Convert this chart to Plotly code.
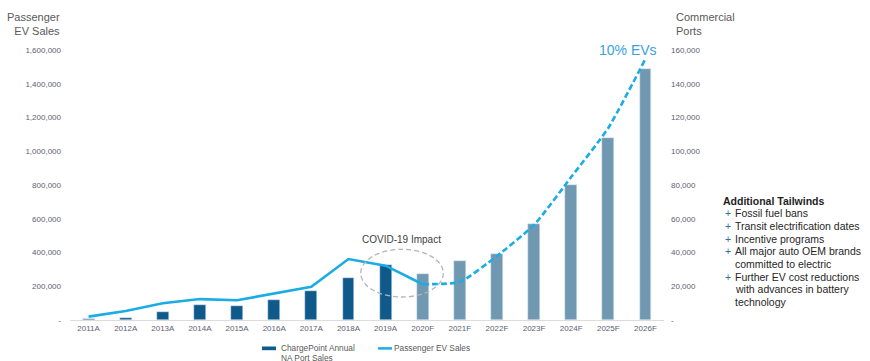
import plotly.graph_objects as go

# ---------------- data ----------------
years = ["2011A", "2012A", "2013A", "2014A", "2015A", "2016A", "2017A", "2018A",
         "2019A", "2020F", "2021F", "2022F", "2023F", "2024F", "2025F", "2026F"]
port_sales = [400, 1400, 4600, 8900, 8300, 11700, 17400, 24900,
              32600, 27300, 34800, 39000, 57100, 80200, 108000, 148800]
ev_sales = [20000, 53000, 99000, 124000, 117000, 158000, 197000, 361000,
            322000, 212000, 225000, 379000, 563000, 847000, 1138000, 1547000]
n_actual = 9  # 2011A-2019A are actuals

left_ticks = [0, 200000, 400000, 600000, 800000, 1000000, 1200000, 1400000, 1600000]
right_ticks = [0, 20000, 40000, 60000, 80000, 100000, 120000, 140000, 160000]
tailwinds = [
    ("Fossil fuel bans", True),
    ("Transit electrification dates", True),
    ("Incentive programs", True),
    ("All major auto OEM brands", True),
    ("committed to electric", False),
    ("Further EV cost reductions", True),
    ("with advances in battery", False),
    ("technology", False),
]

# ---------------- style ----------------
FONT = "Liberation Sans, Arial, sans-serif"
DARK = "#0f5a8b"
LIGHT = "#7099b1"
LINE = "#1aace4"
TICK = "#5d6170"
W, H = 870, 361
PL, PR, PT, PB = 70, 664, 50, 320  # plot area in px


def px(x):
    return (x - PL) / (PR - PL)


def py(y):
    return (PB - y) / (PB - PT)


def fmt(v):
    return "-" if v == 0 else f"{v:,}"


bar_colors = [DARK if i < n_actual else LIGHT for i in range(len(years))]

fig = go.Figure()
fig.add_trace(go.Bar(x=years, y=port_sales, marker_color=bar_colors, width=0.32,
                     yaxis="y", showlegend=False))
fig.add_trace(go.Scatter(x=years[:n_actual + 1], y=ev_sales[:n_actual + 1], mode="lines",
                         line=dict(color=LINE, width=2.6), yaxis="y2", showlegend=False))
fig.add_trace(go.Scatter(x=years[n_actual:], y=ev_sales[n_actual:], mode="lines",
                         line=dict(color=LINE, width=2.6, dash="6px,3px", shape="spline",
                                   smoothing=0.5),
                         yaxis="y2", showlegend=False))

fig.update_layout(
    width=W, height=H,
    margin=dict(l=PL, r=W - PR, t=PT, b=H - PB),
    paper_bgcolor="white", plot_bgcolor="white",
    font=dict(family=FONT, color=TICK, size=8),
    bargap=0,
    xaxis=dict(showgrid=False, showline=True, linecolor="#dcdcdc", linewidth=1,
               ticks="", tickfont=dict(size=8, color=TICK), zeroline=False,
               range=[-0.5, len(years) - 0.5]),
    yaxis=dict(side="right", range=[0, 160000], showgrid=False, zeroline=False,
               tickvals=right_ticks, ticktext=[fmt(v) for v in right_ticks],
               tickfont=dict(size=8, color=TICK), ticks="", ticklabelstandoff=6),
    yaxis2=dict(side="left", overlaying="y", range=[0, 1600000], showgrid=False,
                zeroline=False, tickvals=left_ticks, ticktext=[fmt(v) for v in left_ticks],
                tickfont=dict(size=8, color=TICK), ticks="", ticklabelstandoff=8),
)

ann = []
# axis titles
ann.append(dict(text="Passenger<br>EV Sales", x=px(62), y=py(23.5), xref="paper", yref="paper",
                xanchor="right", yanchor="middle", align="right", showarrow=False,
                font=dict(size=11, color="#595959")))
ann.append(dict(text="Commercial<br>Ports", x=px(674), y=py(23.5), xref="paper", yref="paper",
                xanchor="left", yanchor="middle", align="left", showarrow=False,
                font=dict(size=11, color="#595959")))
# callouts
ann.append(dict(text="10% EVs", x=px(627.5), y=py(50), xref="paper", yref="paper",
                xanchor="center", yanchor="middle", showarrow=False,
                font=dict(size=14, color="#3aa3dc")))
ann.append(dict(text="COVID-19 Impact", x=px(401), y=py(239), xref="paper", yref="paper",
                xanchor="center", yanchor="middle", showarrow=False,
                font=dict(size=10, color="#404040")))
# tailwinds block
ann.append(dict(text="<b>Additional Tailwinds</b>", x=px(721), y=py(200.7), xref="paper",
                yref="paper", xanchor="left", yanchor="middle", showarrow=False,
                font=dict(size=10.5, color="#1e1e1e")))
for i, (txt, plus) in enumerate(tailwinds):
    yy = 213.3 + i * 12.67
    if plus:
        ann.append(dict(text="+", x=px(722.5), y=py(yy), xref="paper", yref="paper",
                        xanchor="left", yanchor="middle", showarrow=False,
                        font=dict(size=10.5, color="#2f6ea6")))
    ann.append(dict(text=txt, x=px(732.5), y=py(yy), xref="paper", yref="paper",
                    xanchor="left", yanchor="middle", showarrow=False,
                    font=dict(size=10.5, color="#262626")))
# legend text
ann.append(dict(text="ChargePoint Annual", x=px(279), y=py(348.3),
                xref="paper", yref="paper", xanchor="left", yanchor="middle",
                showarrow=False, font=dict(size=8.3, color="#595959")))
ann.append(dict(text="NA Port Sales", x=px(280), y=py(351.6), borderpad=0,
                xref="paper", yref="paper", xanchor="left", yanchor="top",
                showarrow=False, font=dict(size=8.3, color="#595959")))
ann.append(dict(text="Passenger EV Sales", x=px(392), y=py(348.3), xref="paper", yref="paper",
                xanchor="left", yanchor="middle", showarrow=False,
                font=dict(size=8.3, color="#595959")))

shapes = [
    dict(type="circle", xref="paper", yref="paper", x0=px(360.7), x1=px(443.3),
         y0=py(297), y1=py(249.3), line=dict(color="#b5b5b5", width=1.3, dash="5px,3px")),
    dict(type="rect", xref="paper", yref="paper", x0=px(262), x1=px(276),
         y0=py(350.2), y1=py(346.5), fillcolor=DARK, line=dict(width=0)),
    dict(type="line", xref="paper", yref="paper", x0=px(378), x1=px(392),
         y0=py(348.4), y1=py(348.4), line=dict(color=LINE, width=2.5)),
]
fig.update_layout(annotations=ann, shapes=shapes)

fig.write_html("out.html")
